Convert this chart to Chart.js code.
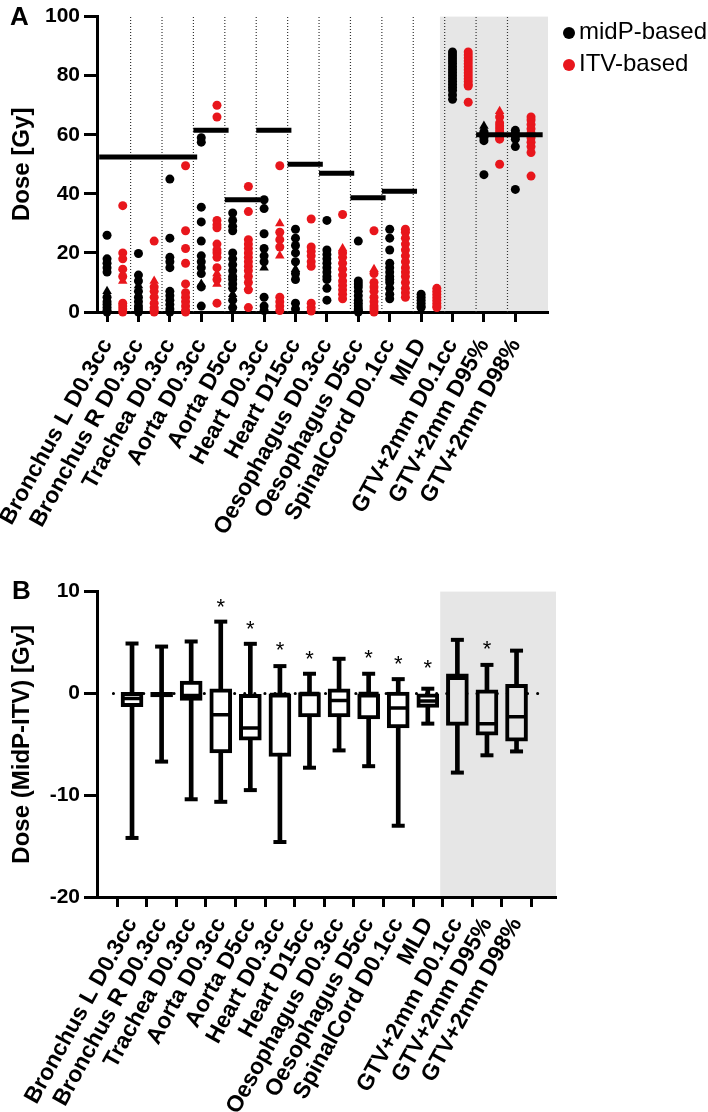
<!DOCTYPE html>
<html>
<head>
<meta charset="utf-8">
<script src="https://cdn.jsdelivr.net/npm/chart.js@4.4.0/dist/chart.umd.min.js"></script>
<style>
  body { margin: 0; background: #fff; }
  #wrap { position: relative; width: 708px; height: 1112px; overflow: hidden; font-family: "Liberation Sans", Arial, sans-serif; color: #000; }
  canvas { position: absolute; left: 0; }
  #chartA { top: 0; }
  #chartB { top: 575px; }
  .panel { position: absolute; font-weight: bold; font-size: 26px; line-height: 1; }
  .legend { position: absolute; left: 563px; font-size: 24px; line-height: 1; white-space: nowrap; }
  .legend span { display: inline-block; width: 12px; height: 12px; border-radius: 50%; margin-right: 4px; vertical-align: middle; }
</style>
</head>
<body>
<div id="wrap">
  <canvas id="chartA" width="708" height="575"></canvas>
  <canvas id="chartB" width="708" height="537"></canvas>
  <div class="panel" style="left:10px; top:3px;">A</div>
  <div class="panel" style="left:12px; top:577px;">B</div>
  <div class="legend" style="top:19px;"><span style="background:#000"></span>midP-based</div>
  <div class="legend" style="top:51px;"><span style="background:#e8161c"></span>ITV-based</div>
</div>
<script>
const categories = [
  "Bronchus L D0.3cc", "Bronchus R D0.3cc", "Trachea D0.3cc", "Aorta D0.3cc",
  "Aorta D5cc", "Heart D0.3cc", "Heart D15cc", "Oesophagus D0.3cc",
  "Oesophagus D5cc", "SpinalCord D0.1cc", "MLD", "GTV+2mm D0.1cc",
  "GTV+2mm D95%", "GTV+2mm D98%"
];

// Panel A: dose per patient [Gy]
const midpDots = [
  [26, 18, 16.5, 15, 13.5, 5, 3.5, 2.5, 1.5, 0.5, 0],
  [19.8, 12.5, 10.5, 7, 5, 3.5, 2, 1, 0],
  [45, 25, 18.5, 17, 15, 7, 5.5, 4, 2.5, 1, 0],
  [59, 57.5, 35.5, 30.5, 24, 19, 17, 15, 13, 8.5, 2],
  [33.5, 31, 29, 27.5, 20, 18, 16, 14, 12, 11, 9.5, 8, 4, 1.5],
  [38, 35, 26.5, 21.5, 19, 17, 5, 2, 0.5],
  [28, 25, 22.5, 20, 17, 13, 11, 3, 1],
  [31, 21, 19.5, 18, 16.5, 15, 13.5, 12, 11, 8, 4],
  [24, 10.5, 9.5, 8.5, 7, 5.5, 4, 3, 2, 1, 0.5, 0],
  [28, 25, 21, 16.5, 15, 13.5, 12, 11, 10, 8, 6, 4.5],
  [6, 5, 4, 3, 2, 1.5],
  [88, 87, 86, 85, 84, 83, 82, 81, 80, 79, 78, 77, 76, 75, 73.5, 72],
  [61, 60.5, 60, 59.5, 59, 58, 46.5],
  [61.5, 60.5, 59.5, 58.5, 56, 41.5]
];
const midpTriangles = [[7], [9], [], [9.5], [6], [15], [14.5], [], [], [], [], [], [63], []];
const itvDots = [
  [36, 20, 18, 14.5, 12, 3, 2, 1, 0],
  [24, 8.5, 7, 5, 3, 1.5, 0.5, 0],
  [49.5, 27.5, 21.5, 16.5, 9.5, 6.5, 5, 3.5, 2, 0.5, 0],
  [70, 66, 31, 29.5, 28.5, 23, 21, 20, 18.5, 15, 11, 3],
  [42.5, 34, 24.5, 23, 21.5, 20, 18.5, 17, 15.5, 14, 12, 10, 7.5, 1.5],
  [49.5, 27, 24.5, 22, 5, 3.5, 2, 0.5],
  [31.5, 22, 20.5, 19, 17, 15.5, 3, 1.5, 0.3],
  [33, 20, 18.5, 16.5, 14.5, 12.5, 10.5, 9, 7.5, 6, 4.5],
  [27.5, 13, 10, 8.5, 7, 5, 3.5, 2, 1, 0],
  [28, 27, 25, 23, 21, 19, 17, 15, 13.5, 12, 10, 8, 6.5, 5],
  [8, 7, 6, 5, 4, 3, 2, 1.5],
  [88, 87, 86, 85, 84, 83, 82, 81, 80, 79, 78, 77, 76.5, 71],
  [66, 64, 63, 62, 61, 60, 59, 58.5, 50],
  [66, 65, 63.5, 62, 60.5, 59, 57.5, 56, 54, 46]
];
const itvTriangles = [[10.5], [10.5], [], [13, 9.5], [8.5], [30, 19], [], [21.5], [14.5], [], [], [], [68], []];

// dose constraints and the categories they cover
const constraintDose = [52.5, 61.5, 38, 61.5, 50, 47, 38.7, 40.9, 60];
const constraintFirst = [0, 3, 4, 5, 6, 7, 8, 9, 12];
const constraintLast = [2, 3, 4, 5, 6, 7, 8, 9, 13];
const doseTicks = [0, 20, 40, 60, 80, 100];

// Panel B: MidP - ITV difference [Gy]
const diffMax = [4.9, 4.6, 5.1, 7.05, 4.87, 2.68, 1.93, 3.4, 1.93, 1.4, 0.46, 5.26, 2.8, 4.2];
const diffQ3 = [0.1, 0.1, 1.2, 0.45, -0.1, 0, 0.07, 0.45, 0, 0.13, 0, 1.93, 0.36, 0.88];
const diffMedian = [-0.5, -0.1, -0.2, -2.1, -3.4, -0.1, 0, -0.7, 0, -1.44, -0.75, 1.5, -2.97, -2.3];
const diffQ1 = [-1.3, -0.35, -0.7, -5.85, -4.6, -6.2, -2.3, -2.3, -2.5, -3.4, -1.37, -3.14, -4.1, -4.7];
const diffMin = [-14.2, -6.7, -10.4, -10.65, -9.5, -14.6, -7.3, -5.6, -7.15, -13.0, -2.97, -7.78, -6.08, -5.7];
const significant = [null, null, null, 9.1, 6.9, 4.9, 3.95, null, 4.05, 3.5, 3.1, null, 5.0, null];
const diffTicks = [-20, -10, 0, 10];

const RED = "#e8161c";
const SHADE = "#e6e6e6";
const FONT = '"Liberation Sans", Arial, sans-serif';
const SHADE_FROM = 10.5; // first target-volume category

function spread(lists, shift) {
  const pts = [];
  lists.forEach((vals, i) => vals.forEach(v => pts.push({ x: i + shift, y: v })));
  return pts;
}

const shadePlugin = {
  id: "shade",
  beforeDraw(chart, args, opts) {
    const { ctx, chartArea, scales: { x } } = chart;
    const left = x.getPixelForValue(opts.from);
    ctx.save();
    ctx.fillStyle = SHADE;
    ctx.fillRect(left, chartArea.top, chartArea.right - left, chartArea.bottom - chartArea.top);
    ctx.restore();
  }
};

const starPlugin = {
  id: "stars",
  afterDatasetsDraw(chart) {
    const { ctx, scales: { x, y } } = chart;
    ctx.save();
    ctx.font = "22px " + FONT;
    ctx.fillStyle = "#000";
    ctx.textAlign = "center";
    significant.forEach((v, i) => {
      if (v == null) return;
      ctx.fillText("*", x.getPixelForValue(i), y.getPixelForValue(v) + 13);
    });
    ctx.restore();
  }
};

function xAxis(min, max, shift, height, pad) {
  return {
    type: "linear", min, max,
    afterBuildTicks: s => { s.ticks = categories.map((c, i) => ({ value: i + shift })); },
    afterFit: s => { s.height = height; s.paddingLeft = 0; s.paddingRight = 0; },
    ticks: {
      callback: (v, i) => categories[i], autoSkip: false, minRotation: 61, maxRotation: 61,
      color: "#000", padding: pad, font: { family: FONT, size: 23, weight: "bold" }
    },
    grid: { drawOnChartArea: false, tickLength: 10, tickWidth: 3, tickColor: "#000" },
    border: { color: "#000", width: 3 }
  };
}

function yAxis(min, max, ticks, title) {
  return {
    min, max,
    afterBuildTicks: s => { s.ticks = ticks.map(v => ({ value: v })); },
    afterFit: s => { s.width = 97; },
    ticks: { color: "#000", padding: 4, font: { family: FONT, size: 21, weight: "bold" } },
    grid: { drawOnChartArea: false, tickLength: 13, tickWidth: 3, tickColor: "#000" },
    border: { color: "#000", width: 3 },
    title: { display: true, text: title, color: "#000", padding: { top: 8, bottom: 0 },
      font: { family: FONT, size: 24, weight: "bold" } }
  };
}

// ---- Panel A ----
const xMinA = -0.57, xMaxA = 13.79;

const dividers = [];
categories.slice(0, -1).forEach((c, i) => {
  dividers.push({ x: i + 0.5, y: doseTicks[0] }, { x: i + 0.5, y: doseTicks[doseTicks.length - 1] }, { x: i + 0.5, y: null });
});
const constraints = [];
constraintDose.forEach((d, k) => {
  constraints.push({ x: constraintFirst[k] - 0.5, y: d }, { x: constraintLast[k] + 0.62, y: d }, { x: constraintLast[k], y: null });
});

new Chart(document.getElementById("chartA"), {
  type: "scatter",
  data: {
    datasets: [
      { data: dividers, showLine: true, pointRadius: 0, borderColor: "#333", borderWidth: 1.2, borderDash: [1, 2], order: 9 },
      { data: spread(midpDots, -0.25), pointRadius: 4.5, backgroundColor: "#000", borderWidth: 0, clip: false, order: 5 },
      { data: spread(midpTriangles, -0.25), pointStyle: "triangle", pointRadius: 5.5, backgroundColor: "#000", borderWidth: 0, clip: false, order: 4 },
      { data: spread(itvDots, 0.25), pointRadius: 4.5, backgroundColor: RED, borderWidth: 0, clip: false, order: 3 },
      { data: spread(itvTriangles, 0.25), pointStyle: "triangle", pointRadius: 5.5, backgroundColor: RED, borderWidth: 0, clip: false, order: 2 },
      { data: constraints, showLine: true, pointRadius: 0, borderColor: "#000", borderWidth: 5, clip: false, order: 1 }
    ]
  },
  options: {
    responsive: false,
    animation: false,
    layout: { padding: { top: 13, right: 160, left: 0, bottom: 0 } },
    scales: {
      x: xAxis(xMinA, xMaxA, -0.25, 575 - 312, 12),
      y: yAxis(0, 100, doseTicks, "Dose [Gy]")
    },
    plugins: { legend: { display: false }, tooltip: { enabled: false }, shade: { from: SHADE_FROM - 0.15 } }
  },
  plugins: [shadePlugin]
});

// ---- Panel B ----
const xMinB = -0.63, xMaxB = 13.78;
const idx = categories.map((c, i) => i);

new Chart(document.getElementById("chartB"), {
  type: "scatter",
  data: {
    datasets: [
      { data: [{ x: xMinB, y: 0 }, { x: xMaxB, y: 0 }], showLine: true, pointRadius: 0, borderColor: "#000",
        borderWidth: 3, borderDash: [0.1, 10], borderCapStyle: "round", order: 9 },
      { type: "bar", data: idx.map(i => ({ x: i, y: [diffMin[i], diffMax[i]] })), barThickness: 4,
        backgroundColor: "#000", borderWidth: 0, grouped: false, order: 8 },
      { type: "bar", data: idx.map(i => ({ x: i, y: [diffQ1[i], diffQ3[i]] })), barThickness: 22,
        backgroundColor: idx.map(i => i > SHADE_FROM ? SHADE : "#fff"), borderColor: "#000", borderWidth: 4,
        borderSkipped: false, grouped: false, order: 7 },
      { data: idx.map(i => ({ x: i, y: diffMedian[i] })), pointStyle: "line", pointRadius: 10, borderColor: "#000", borderWidth: 3.5, order: 6 },
      { data: idx.flatMap(i => [{ x: i, y: diffMin[i] }, { x: i, y: diffMax[i] }]), pointStyle: "line", pointRadius: 6.5,
        borderColor: "#000", borderWidth: 4, clip: false, order: 5 }
    ]
  },
  options: {
    responsive: false,
    animation: false,
    layout: { padding: { top: 16, right: 152, left: 0, bottom: 0 } },
    scales: {
      x: xAxis(xMinB, xMaxB, 0, 537 - 322, 6),
      y: yAxis(-20, 10, diffTicks, "Dose (MidP-ITV) [Gy]")
    },
    plugins: { legend: { display: false }, tooltip: { enabled: false }, shade: { from: SHADE_FROM - 0.08 } }
  },
  plugins: [shadePlugin, starPlugin]
});
</script>
</body>
</html>
